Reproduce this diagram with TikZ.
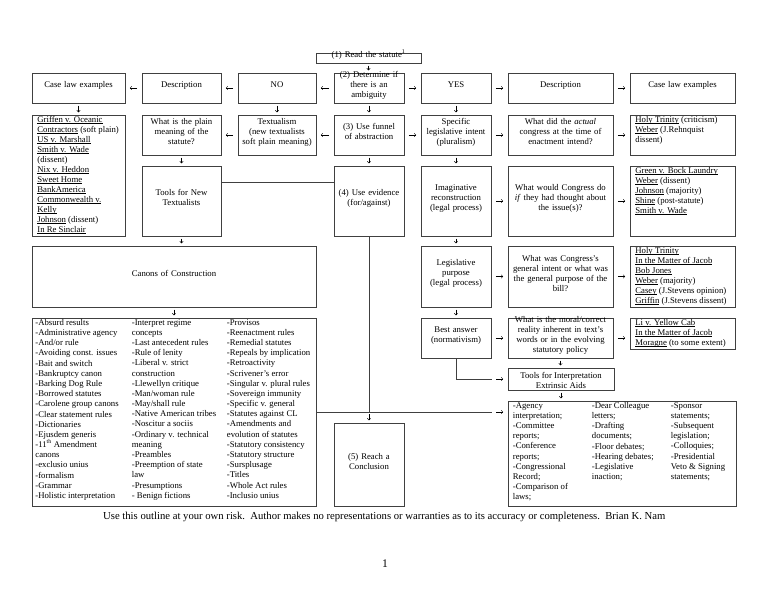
\documentclass[tikz,border=0pt]{standalone}
\usepackage{fontspec}
\setmainfont{Liberation Serif}
\usetikzlibrary{fit,arrows.meta,calc}
\newcommand\boxfont{\fontsize{9}{10.3}\selectfont}
\newcommand\listfont{\fontsize{9}{10.5}\selectfont}
\newcommand\ulc[1]{\setbox0\hbox{#1}\rlap{\rule[-1.3pt]{\wd0}{0.45pt}}\box0\relax}
\begin{document}
\begin{tikzpicture}[x=1.03125pt,y=-1.03125pt,
  box/.style={draw=black!75, line width=0.65pt, inner sep=0pt, fit={#1}, align=center, font=\boxfont},
  lst/.style={anchor=north west, inner sep=0pt, align=left, font=\boxfont},
  blst/.style={lst, font=\listfont},
  ln/.style={draw=black!75, line width=0.65pt},
  garr/.style={line width=0.45pt, -{Straight Barb[length=1.8pt,width=3.6pt]}},
  hg/.style={garr, shorten <=4.6pt, shorten >=4.6pt},
  vg/.style={garr, shorten <=2.4pt, shorten >=2.4pt}]
\useasboundingbox (0,0) rectangle (768,593);

% top
\node[box={(316,53)(421,63)}] (read) {(1) Read the statute\textsuperscript{1}};
% row 1
\node[box={(32,73)(125,103)}] (caseL) {Case law examples};
\node[box={(142,73)(221,103)}] (descL) {Description};
\node[box={(238,73)(316,103)}] (no) {NO};
\node[box={(334,73)(404,103)}] (q2) {(2) Determine if\\there is an\\ambiguity};
\node[box={(421,73)(491,103)}] (yes) {YES};
\node[box={(508,73)(613,103)}] (descR) {Description};
\node[box={(630,73)(735,103)}] (caseR) {Case law examples};
% row 2
\node[box={(32,115)(125,236)}] (griff) {};
\node[lst] at ($(griff.north west)+(5.5,1.5)$) {\ulc{Griffen v. Oceanic}\\\ulc{Contractors} (soft plain)\\\ulc{US v. Marshall}\\\ulc{Smith v. Wade}\\(dissent)\\\ulc{Nix v. Heddon}\\\ulc{Sweet Home}\\\ulc{BankAmerica}\\\ulc{Commonwealth v.}\\\ulc{Kelly}\\\ulc{Johnson} (dissent)\\\ulc{In Re Sinclair}};
\node[box={(142,115)(221,155)}] (plain) {What is the plain\\meaning of the\\statute?};
\node[box={(238,115)(316,155)}] (text) {Textualism\\(new textualists\\soft plain meaning)};
\node[box={(334,115)(404,155)}] (q3) {(3) Use funnel\\of abstraction};
\node[box={(421,115)(491,155)}] (spec) {Specific\\legislative intent\\(pluralism)};
\node[box={(508,115)(613,155)}] (actual) {What did the \textit{actual}\\congress at the time of\\enactment intend?};
\node[box={(630,115)(735,155)}] (holy1) {};
\node[lst] at ($(holy1.north west)+(5.5,1.5)$) {\ulc{Holy Trinity} (criticism)\\\ulc{Weber} (J.Rehnquist\\dissent)};
% row 3
\node[box={(142,166)(221,236)}] (tools) {Tools for New\\Textualists};
\node[box={(334,166)(404,236)}] (q4) {(4) Use evidence\\(for/against)};
\node[box={(421,166)(491,236)}] (imag) {Imaginative\\reconstruction\\(legal process)};
\node[box={(508,166)(613,236)}] (would) {What would Congress do\\\textit{if} they had thought about\\the issue(s)?};
\node[box={(630,166)(735,236)}] (green) {};
\node[lst] at ($(green.north west)+(5.5,1.5)$) {\ulc{Green v. Bock Laundry}\\\ulc{Weber} (dissent)\\\ulc{Johnson} (majority)\\\ulc{Shine} (post-statute)\\\ulc{Smith v. Wade}};
% row 4
\node[box={(32,246)(316,307)}] (canons) {Canons of Construction};
\node[box={(421,246)(491,307)}] (purp) {Legislative\\purpose\\(legal process)};
\node[box={(508,246)(613,307)}] (general) {What was Congress’s\\general intent or what was\\the general purpose of the\\bill?};
\node[box={(630,246)(735,307)}] (holy2) {};
\node[lst] at ($(holy2.north west)+(5.5,1.5)$) {\ulc{Holy Trinity}\\\ulc{In the Matter of Jacob}\\\ulc{Bob Jones}\\\ulc{Weber} (majority)\\\ulc{Casey} (J.Stevens opinion)\\\ulc{Griffin} (J.Stevens dissent)};
% row 5
\node[box={(32,318)(316,506)}] (canlist) {};
\node[blst] at ($(canlist.north west)+(3.5,1.5)$) {-Absurd results\\-Administrative agency\\-And/or rule\\-Avoiding const. issues\\-Bait and switch\\-Bankruptcy canon\\-Barking Dog Rule\\-Borrowed statutes\\-Carolene group canons\\-Clear statement rules\\-Dictionaries\\-Ejusdem generis\\-11\textsuperscript{th} Amendment\\canons\\-exclusio unius\\-formalism\\-Grammar\\-Holistic interpretation};
\node[blst] at ($(canlist.north west)+(100,1.5)$) {-Interpret regime\\concepts\\-Last antecedent rules\\-Rule of lenity\\-Liberal v. strict\\construction\\-Llewellyn critique\\-Man/woman rule\\-May/shall rule\\-Native American tribes\\-Noscitur a sociis\\-Ordinary v. technical\\meaning\\-Preambles\\-Preemption of state\\law\\-Presumptions\\- Benign fictions};
\node[blst] at ($(canlist.north west)+(195,1.5)$) {-Provisos\\-Reenactment rules\\-Remedial statutes\\-Repeals by implication\\-Retroactivity\\-Scrivener’s error\\-Singular v. plural rules\\-Sovereign immunity\\-Specific v. general\\-Statutes against CL\\-Amendments and\\evolution of statutes\\-Statutory consistency\\-Statutory structure\\-Sursplusage\\-Titles\\-Whole Act rules\\-Inclusio unius};
\node[box={(421,318)(491,358)}] (best) {Best answer\\(normativism)};
\node[box={(508,318)(613,358)}] (moral) {What is the moral/correct\\reality inherent in text’s\\words or in the evolving\\statutory policy};
\node[box={(630,318)(735,349)}] (li) {};
\node[lst] at ($(li.north west)+(5.5,1.5)$) {\ulc{Li v. Yellow Cab}\\\ulc{In the Matter of Jacob}\\\ulc{Moragne} (to some extent)};
\node[box={(508,368)(614,390)}] (ti) {};
\node[inner sep=0pt, align=center, font=\boxfont] at ($(ti.center)+(0,1.2)$) {Tools for Interpretation\\Extrinsic Aids};
\node[box={(508,401)(736,506)}] (aids) {};
\node[blst] at ($(aids.north west)+(5,1.5)$) {-Agency\\interpretation;\\-Committee\\reports;\\-Conference\\reports;\\-Congressional\\Record;\\-Comparison of\\laws;};
\node[blst] at ($(aids.north west)+(84,1.5)$) {-Dear Colleague\\letters;\\-Drafting\\documents;\\-Floor debates;\\-Hearing debates;\\-Legislative\\inaction;};
\node[blst] at ($(aids.north west)+(163,1.5)$) {-Sponsor\\statements;\\-Subsequent\\legislation;\\-Colloquies;\\-Presidential\\Veto \& Signing\\statements;};
\node[box={(334,423)(404,506)}] (q5) {(5) Reach a\\Conclusion};

% horizontal glyph arrows
\draw[hg] (descL.west) -- (caseL.east);
\draw[hg] (no.west) -- (descL.east);
\draw[hg] (q2.west) -- (no.east);
\draw[hg] (q2.east) -- (yes.west);
\draw[hg] (yes.east) -- (descR.west);
\draw[hg] (descR.east) -- (caseR.west);
\draw[hg] (text.west) -- (plain.east);
\draw[hg] (q3.west) -- (text.east);
\draw[hg] (q3.east) -- (spec.west);
\draw[hg] (spec.east) -- (actual.west);
\draw[hg] (actual.east) -- (holy1.west);
\draw[hg] (imag.east) -- (would.west);
\draw[hg] (would.east) -- (green.west);
\draw[hg] (purp.east) -- (general.west);
\draw[hg] (general.east) -- (holy2.west);
\draw[hg] (best.east) -- (moral.west);
\draw[hg] (moral.east) -- (moral.east -| li.west);
% vertical glyph arrows
\draw[vg] (read.south) -- (read.south |- q2.north);
\draw[vg] (caseL.south) -- (griff.north);
\draw[vg] (no.south) -- (text.north);
\draw[vg] (q2.south) -- (q3.north);
\draw[vg] (yes.south) -- (spec.north);
\draw[vg] (plain.south) -- (tools.north);
\draw[vg] (q3.south) -- (q4.north);
\draw[vg] (spec.south) -- (imag.north);
\draw[vg] (tools.south) -- (tools.south |- canons.north);
\draw[vg] (imag.south) -- (purp.north);
\draw[vg] (canons.south) -- (canlist.north);
\draw[vg] (purp.south) -- (best.north);
\draw[vg] (moral.south) -- (moral.south |- ti.north);
\draw[vg] (ti.south) -- (ti.south |- aids.north);
% connecting lines
\draw[ln] ($(tools.north east)+(0,17)$) -- ($(q4.north west)+(0,17)$);
\coordinate (J) at (q4.south |- canlist.east);
\coordinate (K) at ($(aids.west |- J)+(-16,0)$);
\draw[ln] (canlist.east) -- (K);
\draw[ln] (q4.south) -- (J);
\draw[vg] (J) -- (q5.north);
\draw[hg] (K) -- (aids.west |- J);
\coordinate (L) at ($(ti.west)+(-16,0)$);
\draw[ln] (best.south) |- (L);
\draw[hg] (L) -- (ti.west);

% footer
\node[anchor=base west, inner sep=0pt, font=\fontsize{11}{13}\selectfont] (foot) at (103,519.5) {Use this outline at your own risk.\ \ Author makes no representations or warranties as to its accuracy or completeness.\ \ Brian K. Nam};
\node[inner sep=0pt, font=\fontsize{12}{14}\selectfont] (pg) at (385,564) {1};
\end{tikzpicture}
\end{document}
